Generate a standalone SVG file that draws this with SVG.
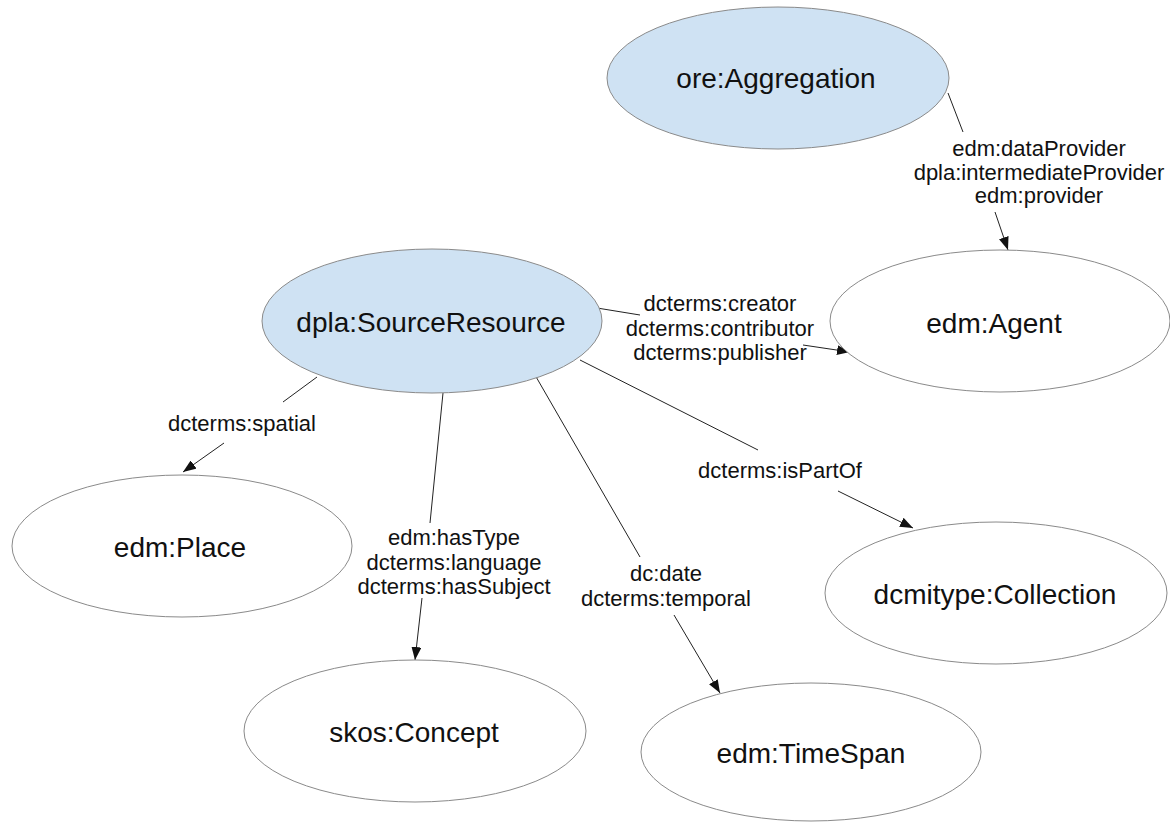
<svg xmlns="http://www.w3.org/2000/svg" width="1170" height="822" viewBox="0 0 1170 822">
  <style>
    .node { stroke: #8a8a8a; stroke-width: 1; fill: #ffffff; }
    .blue { fill: #cfe2f3; }
    .ntext { font-family: "Liberation Sans", Arial, sans-serif; font-size: 28px; fill: #111; text-anchor: middle; }
    .ltext { font-family: "Liberation Sans", Arial, sans-serif; font-size: 22px; fill: #111; text-anchor: middle; }
    .edge { stroke: #222; stroke-width: 1; fill: none; }
  </style>
  <defs>
    <marker id="arrow" markerUnits="userSpaceOnUse" markerWidth="14" markerHeight="10" refX="13" refY="5" orient="auto">
      <path d="M0,0 L13,5 L0,10 z" fill="#111"/>
    </marker>
  </defs>
  <rect width="1170" height="822" fill="#ffffff"/>

  <g id="connectors">
    <g id="e-agg-agent">
      <line class="edge" x1="948" y1="93" x2="963" y2="132"/>
      <line class="edge" x1="995" y1="212" x2="1008" y2="250" marker-end="url(#arrow)"/>
      <text class="ltext" x="1039" y="156">edm:dataProvider</text>
      <text class="ltext" x="1039" y="180">dpla:intermediateProvider</text>
      <text class="ltext" x="1039" y="203">edm:provider</text>
    </g>
    <g id="e-sr-agent">
      <line class="edge" x1="597" y1="308" x2="640" y2="315"/>
      <line class="edge" x1="803" y1="345" x2="850" y2="352" marker-end="url(#arrow)"/>
      <text class="ltext" x="720" y="311">dcterms:creator</text>
      <text class="ltext" x="720" y="336">dcterms:contributor</text>
      <text class="ltext" x="720" y="360">dcterms:publisher</text>
    </g>
    <g id="e-sr-place">
      <line class="edge" x1="317" y1="377" x2="283" y2="402"/>
      <line class="edge" x1="224" y1="443" x2="183" y2="472" marker-end="url(#arrow)"/>
      <text class="ltext" x="242" y="431">dcterms:spatial</text>
    </g>
    <g id="e-sr-concept">
      <line class="edge" x1="443" y1="393" x2="430" y2="523"/>
      <line class="edge" x1="422" y1="598" x2="415" y2="660" marker-end="url(#arrow)"/>
      <text class="ltext" x="454" y="545">edm:hasType</text>
      <text class="ltext" x="454" y="570">dcterms:language</text>
      <text class="ltext" x="454" y="594">dcterms:hasSubject</text>
    </g>
    <g id="e-sr-timespan">
      <line class="edge" x1="535" y1="375" x2="640" y2="557"/>
      <line class="edge" x1="674" y1="615" x2="720" y2="693" marker-end="url(#arrow)"/>
      <text class="ltext" x="666" y="581">dc:date</text>
      <text class="ltext" x="666" y="606">dcterms:temporal</text>
    </g>
    <g id="e-sr-collection">
      <line class="edge" x1="580" y1="360" x2="758" y2="450"/>
      <line class="edge" x1="838" y1="491" x2="913" y2="528" marker-end="url(#arrow)"/>
      <text class="ltext" x="780" y="478">dcterms:isPartOf</text>
    </g>
  </g>

  <g id="node-aggregation">
    <ellipse class="node blue" cx="778" cy="78" rx="171" ry="71"/>
    <text class="ntext" x="776" y="88">ore:Aggregation</text>
  </g>
  <g id="node-agent">
    <ellipse class="node" cx="1000" cy="321" rx="170" ry="71"/>
    <text class="ntext" x="994" y="333">edm:Agent</text>
  </g>
  <g id="node-sourceresource">
    <ellipse class="node blue" cx="432" cy="321" rx="170" ry="72"/>
    <text class="ntext" x="431" y="332">dpla:SourceResource</text>
  </g>
  <g id="node-place">
    <ellipse class="node" cx="182" cy="546" rx="170" ry="71"/>
    <text class="ntext" x="180" y="557">edm:Place</text>
  </g>
  <g id="node-concept">
    <ellipse class="node" cx="415" cy="731" rx="171" ry="71"/>
    <text class="ntext" x="414" y="742">skos:Concept</text>
  </g>
  <g id="node-timespan">
    <ellipse class="node" cx="811" cy="752" rx="170" ry="69"/>
    <text class="ntext" x="811" y="763">edm:TimeSpan</text>
  </g>
  <g id="node-collection">
    <ellipse class="node" cx="996" cy="593" rx="171" ry="71"/>
    <text class="ntext" x="995" y="604">dcmitype:Collection</text>
  </g>
</svg>
